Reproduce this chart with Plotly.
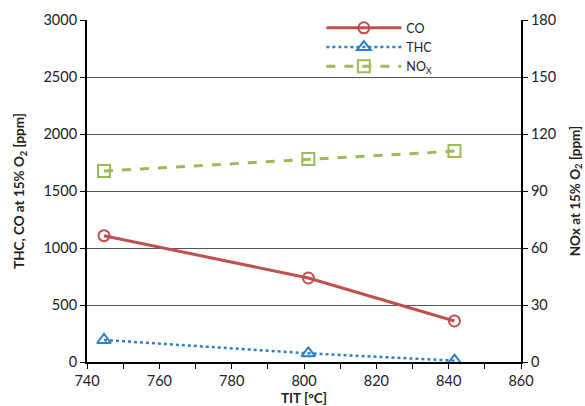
import plotly.graph_objects as go

tit = [744.7, 801.2, 841.6]
co = [1108, 737, 360]
thc = [193, 76, 12]
nox = [100.5, 106.8, 111.0]

FONT = "Lato"
fig = go.Figure()
fig.add_trace(go.Scatter(x=tit, y=co, name="CO", mode="lines+markers",
                         line=dict(color="#C0504D", width=3),
                         marker=dict(symbol="circle-open", size=11, color="#C0504D", line=dict(width=2))))
fig.add_trace(go.Scatter(x=tit, y=thc, name="THC", mode="lines+markers",
                         line=dict(color="#2E7FC3", width=2.5, dash="dot"),
                         marker=dict(symbol="triangle-up-open", size=12, color="#2E7FC3", line=dict(width=2))))
fig.add_trace(go.Scatter(x=tit, y=nox, name="NO<sub>X</sub>", mode="lines+markers", yaxis="y2",
                         line=dict(color="#9BBB59", width=3, dash="dash"),
                         marker=dict(symbol="square-open", size=12, color="#9BBB59", line=dict(width=2))))

fig.update_layout(
    width=585, height=406,
    margin=dict(l=87, r=64, t=20, b=44),
    paper_bgcolor="white", plot_bgcolor="white",
    font=dict(family=FONT, size=14.5, color="#222"),
    showlegend=True,
    legend=dict(x=0.54, y=1.02, xanchor="left", yanchor="top",
                bgcolor="rgba(0,0,0,0)", font=dict(size=12.5), itemwidth=75,
                tracegroupgap=0, traceorder="normal"),
    xaxis=dict(range=[740, 860], dtick=20, tick0=740, ticks="outside", ticklen=5,
               showline=True, linecolor="black", linewidth=1.5, showgrid=False, zeroline=False,
               minor=dict(dtick=10, ticks="outside", ticklen=5, tickcolor="black"),
               tickcolor="black", automargin=False,
               title=dict(text="<b>TIT [°C]</b>", standoff=8, font=dict(size=13.5))),
    yaxis=dict(range=[0, 3000], dtick=500, ticks="outside", ticklen=5, tickcolor="black",
               showline=True, linecolor="black", linewidth=2, showgrid=True,
               gridcolor="#555555", gridwidth=1, zeroline=False, automargin=False,
               title=dict(text="<b>THC, CO at 15% O<sub>2</sub> [ppm]</b>", standoff=16, font=dict(size=13.5))),
    yaxis2=dict(range=[0, 180], dtick=30, overlaying="y", side="right", ticks="outside",
                ticklen=5, tickcolor="black", showline=True, linecolor="black", linewidth=2,
                showgrid=False, zeroline=False, automargin=False,
                title=dict(text="<b>NOx at 15% O<sub>2</sub> [ppm]</b>", standoff=15, font=dict(size=13.5))),
)
fig.write_html("out.html")
